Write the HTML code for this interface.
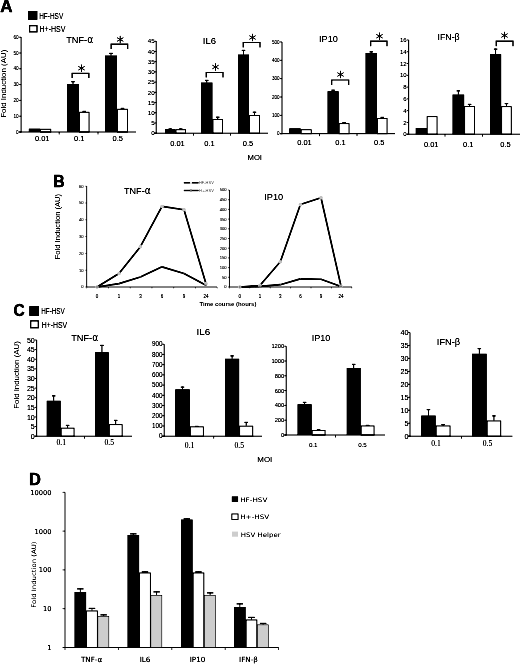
<!DOCTYPE html>
<html lang="en"><head><meta charset="utf-8"><title>Figure</title>
<style>
html,body{margin:0;padding:0;background:#fff;}
body{width:520px;height:664px;overflow:hidden;}
svg{display:block;}
</style></head><body>
<svg width="520" height="664" viewBox="0 0 520 664">
<defs><filter id="soft" x="0" y="0" width="520" height="664" filterUnits="userSpaceOnUse" color-interpolation-filters="sRGB">
<feGaussianBlur stdDeviation="0.45"/>
<feComponentTransfer><feFuncR type="linear" slope="1.5" intercept="-0.4"/><feFuncG type="linear" slope="1.5" intercept="-0.4"/><feFuncB type="linear" slope="1.5" intercept="-0.4"/></feComponentTransfer>
</filter></defs>
<g filter="url(#soft)">
<rect width="520" height="664" fill="#fff"/>
<text x="0.30" y="12.30" font-size="16.8" font-family='"Liberation Sans", sans-serif' textLength="12.30" lengthAdjust="spacingAndGlyphs" font-weight="bold" fill="#000" stroke="#000" stroke-width="0.4">A</text>
<rect x="28.00" y="11.00" width="9.40" height="8.80" fill="#000"/>
<text x="39.20" y="19.00" font-size="9" font-family='"Liberation Sans", sans-serif' textLength="24.00" lengthAdjust="spacingAndGlyphs" fill="#000" stroke="#000" stroke-width="0.08">HF-HSV</text>
<rect x="29.60" y="25.70" width="7.40" height="6.20" fill="#fff" stroke="#000" stroke-width="1.2"/>
<text x="39.50" y="32.00" font-size="9" font-family='"Liberation Sans", sans-serif' textLength="26.00" lengthAdjust="spacingAndGlyphs" fill="#000" stroke="#000" stroke-width="0.08">H+-HSV</text>
<text x="3.50" y="83.70" font-size="6.3" font-family='"Liberation Sans", sans-serif' text-anchor="middle" textLength="68.00" lengthAdjust="spacingAndGlyphs" transform="rotate(-90 3.50 83.70)" dominant-baseline="central">Fold Induction (AU)</text>
<rect x="28.80" y="128.60" width="11.30" height="3.40" fill="#000"/>
<rect x="40.55" y="129.25" width="10.20" height="2.75" fill="#fff" stroke="#000" stroke-width="0.9"/>
<rect x="67.00" y="84.00" width="12.00" height="48.00" fill="#000"/>
<rect x="79.45" y="112.25" width="9.60" height="19.75" fill="#fff" stroke="#000" stroke-width="0.9"/>
<line x1="73.00" y1="84.00" x2="73.00" y2="81.30" stroke="#000" stroke-width="1"/>
<line x1="71.25" y1="81.70" x2="74.75" y2="81.70" stroke="#000" stroke-width="1.2"/>
<line x1="84.25" y1="111.80" x2="84.25" y2="111.00" stroke="#000" stroke-width="1"/>
<line x1="82.50" y1="111.40" x2="86.00" y2="111.40" stroke="#000" stroke-width="1.2"/>
<rect x="105.00" y="55.50" width="12.00" height="76.50" fill="#000"/>
<rect x="117.45" y="109.25" width="10.10" height="22.75" fill="#fff" stroke="#000" stroke-width="0.9"/>
<line x1="111.00" y1="55.50" x2="111.00" y2="53.00" stroke="#000" stroke-width="1"/>
<line x1="109.25" y1="53.40" x2="112.75" y2="53.40" stroke="#000" stroke-width="1.2"/>
<line x1="122.50" y1="108.80" x2="122.50" y2="108.00" stroke="#000" stroke-width="1"/>
<line x1="120.75" y1="108.40" x2="124.25" y2="108.40" stroke="#000" stroke-width="1.2"/>
<line x1="21.10" y1="37.00" x2="21.10" y2="132.50" stroke="#000" stroke-width="0.9"/>
<line x1="19.10" y1="132.00" x2="136.00" y2="132.00" stroke="#000" stroke-width="0.9"/>
<line x1="19.10" y1="132.00" x2="21.10" y2="132.00" stroke="#000" stroke-width="0.8"/>
<text x="18.70" y="133.69" font-size="4.7" font-family='"Liberation Sans", sans-serif' text-anchor="end" fill="#000" stroke="#000" stroke-width="0.08">0</text>
<line x1="19.10" y1="116.20" x2="21.10" y2="116.20" stroke="#000" stroke-width="0.8"/>
<text x="18.70" y="117.89" font-size="4.7" font-family='"Liberation Sans", sans-serif' text-anchor="end" fill="#000" stroke="#000" stroke-width="0.08">10</text>
<line x1="19.10" y1="100.40" x2="21.10" y2="100.40" stroke="#000" stroke-width="0.8"/>
<text x="18.70" y="102.09" font-size="4.7" font-family='"Liberation Sans", sans-serif' text-anchor="end" fill="#000" stroke="#000" stroke-width="0.08">20</text>
<line x1="19.10" y1="84.60" x2="21.10" y2="84.60" stroke="#000" stroke-width="0.8"/>
<text x="18.70" y="86.29" font-size="4.7" font-family='"Liberation Sans", sans-serif' text-anchor="end" fill="#000" stroke="#000" stroke-width="0.08">30</text>
<line x1="19.10" y1="68.80" x2="21.10" y2="68.80" stroke="#000" stroke-width="0.8"/>
<text x="18.70" y="70.49" font-size="4.7" font-family='"Liberation Sans", sans-serif' text-anchor="end" fill="#000" stroke="#000" stroke-width="0.08">40</text>
<line x1="19.10" y1="53.00" x2="21.10" y2="53.00" stroke="#000" stroke-width="0.8"/>
<text x="18.70" y="54.69" font-size="4.7" font-family='"Liberation Sans", sans-serif' text-anchor="end" fill="#000" stroke="#000" stroke-width="0.08">50</text>
<line x1="19.10" y1="37.20" x2="21.10" y2="37.20" stroke="#000" stroke-width="0.8"/>
<text x="18.70" y="38.89" font-size="4.7" font-family='"Liberation Sans", sans-serif' text-anchor="end" fill="#000" stroke="#000" stroke-width="0.08">60</text>
<line x1="59.20" y1="132.00" x2="59.20" y2="134.50" stroke="#000" stroke-width="0.8"/>
<line x1="98.00" y1="132.00" x2="98.00" y2="134.50" stroke="#000" stroke-width="0.8"/>
<text x="42.20" y="140.90" font-size="7.5" font-family='"Liberation Sans", sans-serif' text-anchor="middle" fill="#000" stroke="#000" stroke-width="0.08">0.01</text>
<text x="79.20" y="140.90" font-size="7.5" font-family='"Liberation Sans", sans-serif' text-anchor="middle" fill="#000" stroke="#000" stroke-width="0.08">0.1</text>
<text x="117.80" y="140.90" font-size="7.5" font-family='"Liberation Sans", sans-serif' text-anchor="middle" fill="#000" stroke="#000" stroke-width="0.08">0.5</text>
<text x="66.20" y="43.30" font-size="9.8" font-family='"Liberation Sans", sans-serif' textLength="27.00" lengthAdjust="spacingAndGlyphs" fill="#000" stroke="#000" stroke-width="0.05">TNF-<tspan font-family="DejaVu Sans" font-size="9.8">α</tspan></text>
<path d="M72.10 78.00 V73.30 H88.90 V78.00" fill="none" stroke="#000" stroke-width="1.2"/>
<line x1="81.50" y1="64.50" x2="81.50" y2="71.90" stroke="#000" stroke-width="0.95"/>
<line x1="78.30" y1="66.35" x2="84.70" y2="70.05" stroke="#000" stroke-width="0.95"/>
<line x1="84.70" y1="66.35" x2="78.30" y2="70.05" stroke="#000" stroke-width="0.95"/>
<path d="M111.10 49.00 V44.10 H127.70 V49.00" fill="none" stroke="#000" stroke-width="1.2"/>
<line x1="120.20" y1="35.80" x2="120.20" y2="43.20" stroke="#000" stroke-width="0.95"/>
<line x1="117.00" y1="37.65" x2="123.40" y2="41.35" stroke="#000" stroke-width="0.95"/>
<line x1="123.40" y1="37.65" x2="117.00" y2="41.35" stroke="#000" stroke-width="0.95"/>
<rect x="165.00" y="129.20" width="10.50" height="4.00" fill="#000"/>
<rect x="175.95" y="129.75" width="9.60" height="3.45" fill="#fff" stroke="#000" stroke-width="0.9"/>
<line x1="170.25" y1="129.20" x2="170.25" y2="128.60" stroke="#000" stroke-width="1"/>
<line x1="168.50" y1="129.00" x2="172.00" y2="129.00" stroke="#000" stroke-width="1.2"/>
<line x1="180.75" y1="129.30" x2="180.75" y2="128.60" stroke="#000" stroke-width="1"/>
<line x1="179.00" y1="129.00" x2="182.50" y2="129.00" stroke="#000" stroke-width="1.2"/>
<rect x="201.00" y="82.50" width="11.50" height="50.70" fill="#000"/>
<rect x="212.95" y="119.45" width="9.60" height="13.75" fill="#fff" stroke="#000" stroke-width="0.9"/>
<line x1="206.75" y1="82.50" x2="206.75" y2="80.00" stroke="#000" stroke-width="1"/>
<line x1="205.00" y1="80.40" x2="208.50" y2="80.40" stroke="#000" stroke-width="1.2"/>
<line x1="217.75" y1="119.00" x2="217.75" y2="116.80" stroke="#000" stroke-width="1"/>
<line x1="216.00" y1="117.20" x2="219.50" y2="117.20" stroke="#000" stroke-width="1.2"/>
<rect x="238.00" y="54.50" width="11.00" height="78.70" fill="#000"/>
<rect x="249.45" y="115.45" width="10.10" height="17.75" fill="#fff" stroke="#000" stroke-width="0.9"/>
<line x1="243.50" y1="54.50" x2="243.50" y2="50.00" stroke="#000" stroke-width="1"/>
<line x1="241.75" y1="50.40" x2="245.25" y2="50.40" stroke="#000" stroke-width="1.2"/>
<line x1="254.50" y1="115.00" x2="254.50" y2="111.80" stroke="#000" stroke-width="1"/>
<line x1="252.75" y1="112.20" x2="256.25" y2="112.20" stroke="#000" stroke-width="1.2"/>
<line x1="156.20" y1="41.00" x2="156.20" y2="133.70" stroke="#000" stroke-width="0.9"/>
<line x1="154.20" y1="133.20" x2="268.00" y2="133.20" stroke="#000" stroke-width="0.9"/>
<line x1="154.20" y1="133.20" x2="156.20" y2="133.20" stroke="#000" stroke-width="0.8"/>
<text x="154.60" y="135.43" font-size="6.2" font-family='"Liberation Sans", sans-serif' text-anchor="end" fill="#000" stroke="#000" stroke-width="0.08">0</text>
<line x1="154.20" y1="122.98" x2="156.20" y2="122.98" stroke="#000" stroke-width="0.8"/>
<text x="154.60" y="125.21" font-size="6.2" font-family='"Liberation Sans", sans-serif' text-anchor="end" fill="#000" stroke="#000" stroke-width="0.08">5</text>
<line x1="154.20" y1="112.76" x2="156.20" y2="112.76" stroke="#000" stroke-width="0.8"/>
<text x="154.60" y="114.99" font-size="6.2" font-family='"Liberation Sans", sans-serif' text-anchor="end" fill="#000" stroke="#000" stroke-width="0.08">10</text>
<line x1="154.20" y1="102.54" x2="156.20" y2="102.54" stroke="#000" stroke-width="0.8"/>
<text x="154.60" y="104.77" font-size="6.2" font-family='"Liberation Sans", sans-serif' text-anchor="end" fill="#000" stroke="#000" stroke-width="0.08">15</text>
<line x1="154.20" y1="92.32" x2="156.20" y2="92.32" stroke="#000" stroke-width="0.8"/>
<text x="154.60" y="94.55" font-size="6.2" font-family='"Liberation Sans", sans-serif' text-anchor="end" fill="#000" stroke="#000" stroke-width="0.08">20</text>
<line x1="154.20" y1="82.10" x2="156.20" y2="82.10" stroke="#000" stroke-width="0.8"/>
<text x="154.60" y="84.33" font-size="6.2" font-family='"Liberation Sans", sans-serif' text-anchor="end" fill="#000" stroke="#000" stroke-width="0.08">25</text>
<line x1="154.20" y1="71.88" x2="156.20" y2="71.88" stroke="#000" stroke-width="0.8"/>
<text x="154.60" y="74.11" font-size="6.2" font-family='"Liberation Sans", sans-serif' text-anchor="end" fill="#000" stroke="#000" stroke-width="0.08">30</text>
<line x1="154.20" y1="61.66" x2="156.20" y2="61.66" stroke="#000" stroke-width="0.8"/>
<text x="154.60" y="63.89" font-size="6.2" font-family='"Liberation Sans", sans-serif' text-anchor="end" fill="#000" stroke="#000" stroke-width="0.08">35</text>
<line x1="154.20" y1="51.44" x2="156.20" y2="51.44" stroke="#000" stroke-width="0.8"/>
<text x="154.60" y="53.67" font-size="6.2" font-family='"Liberation Sans", sans-serif' text-anchor="end" fill="#000" stroke="#000" stroke-width="0.08">40</text>
<line x1="154.20" y1="41.22" x2="156.20" y2="41.22" stroke="#000" stroke-width="0.8"/>
<text x="154.60" y="43.45" font-size="6.2" font-family='"Liberation Sans", sans-serif' text-anchor="end" fill="#000" stroke="#000" stroke-width="0.08">45</text>
<line x1="193.50" y1="133.20" x2="193.50" y2="135.70" stroke="#000" stroke-width="0.8"/>
<line x1="230.50" y1="133.20" x2="230.50" y2="135.70" stroke="#000" stroke-width="0.8"/>
<text x="177.50" y="146.40" font-size="7.5" font-family='"Liberation Sans", sans-serif' text-anchor="middle" fill="#000" stroke="#000" stroke-width="0.08">0.01</text>
<text x="209.50" y="146.40" font-size="7.5" font-family='"Liberation Sans", sans-serif' text-anchor="middle" fill="#000" stroke="#000" stroke-width="0.08">0.1</text>
<text x="248.00" y="146.40" font-size="7.5" font-family='"Liberation Sans", sans-serif' text-anchor="middle" fill="#000" stroke="#000" stroke-width="0.08">0.5</text>
<text x="202.80" y="43.80" font-size="9.8" font-family='"Liberation Sans", sans-serif' textLength="13.30" lengthAdjust="spacingAndGlyphs" fill="#000" stroke="#000" stroke-width="0.05">IL6</text>
<path d="M206.20 77.50 V72.50 H223.00 V77.50" fill="none" stroke="#000" stroke-width="1.2"/>
<line x1="215.50" y1="63.30" x2="215.50" y2="70.70" stroke="#000" stroke-width="0.95"/>
<line x1="212.30" y1="65.15" x2="218.70" y2="68.85" stroke="#000" stroke-width="0.95"/>
<line x1="218.70" y1="65.15" x2="212.30" y2="68.85" stroke="#000" stroke-width="0.95"/>
<path d="M243.20 47.50 V42.50 H260.00 V47.50" fill="none" stroke="#000" stroke-width="1.2"/>
<line x1="252.50" y1="33.80" x2="252.50" y2="41.20" stroke="#000" stroke-width="0.95"/>
<line x1="249.30" y1="35.65" x2="255.70" y2="39.35" stroke="#000" stroke-width="0.95"/>
<line x1="255.70" y1="35.65" x2="249.30" y2="39.35" stroke="#000" stroke-width="0.95"/>
<text x="247.50" y="160.00" font-size="7.8" font-family='"Liberation Sans", sans-serif' textLength="14.50" lengthAdjust="spacingAndGlyphs" fill="#000" stroke="#000" stroke-width="0.08">MOI</text>
<rect x="289.20" y="128.30" width="11.50" height="5.40" fill="#000"/>
<rect x="301.15" y="129.75" width="10.10" height="3.95" fill="#fff" stroke="#000" stroke-width="0.9"/>
<rect x="327.50" y="91.20" width="11.20" height="42.50" fill="#000"/>
<rect x="339.15" y="123.65" width="9.90" height="10.05" fill="#fff" stroke="#000" stroke-width="0.9"/>
<line x1="333.10" y1="91.20" x2="333.10" y2="89.80" stroke="#000" stroke-width="1"/>
<line x1="331.35" y1="90.20" x2="334.85" y2="90.20" stroke="#000" stroke-width="1.2"/>
<line x1="344.10" y1="123.20" x2="344.10" y2="122.20" stroke="#000" stroke-width="1"/>
<line x1="342.35" y1="122.60" x2="345.85" y2="122.60" stroke="#000" stroke-width="1.2"/>
<rect x="365.50" y="53.00" width="11.50" height="80.70" fill="#000"/>
<rect x="377.45" y="118.45" width="9.60" height="15.25" fill="#fff" stroke="#000" stroke-width="0.9"/>
<line x1="371.25" y1="53.00" x2="371.25" y2="51.50" stroke="#000" stroke-width="1"/>
<line x1="369.50" y1="51.90" x2="373.00" y2="51.90" stroke="#000" stroke-width="1.2"/>
<line x1="382.25" y1="118.00" x2="382.25" y2="117.00" stroke="#000" stroke-width="1"/>
<line x1="380.50" y1="117.40" x2="384.00" y2="117.40" stroke="#000" stroke-width="1.2"/>
<line x1="282.00" y1="42.00" x2="282.00" y2="134.20" stroke="#000" stroke-width="0.9"/>
<line x1="280.00" y1="133.70" x2="395.00" y2="133.70" stroke="#000" stroke-width="0.9"/>
<line x1="280.00" y1="133.70" x2="282.00" y2="133.70" stroke="#000" stroke-width="0.8"/>
<text x="279.60" y="135.36" font-size="4.6" font-family='"Liberation Sans", sans-serif' text-anchor="end" fill="#000" stroke="#000" stroke-width="0.08">0</text>
<line x1="280.00" y1="115.35" x2="282.00" y2="115.35" stroke="#000" stroke-width="0.8"/>
<text x="279.60" y="117.01" font-size="4.6" font-family='"Liberation Sans", sans-serif' text-anchor="end" fill="#000" stroke="#000" stroke-width="0.08">100</text>
<line x1="280.00" y1="97.00" x2="282.00" y2="97.00" stroke="#000" stroke-width="0.8"/>
<text x="279.60" y="98.66" font-size="4.6" font-family='"Liberation Sans", sans-serif' text-anchor="end" fill="#000" stroke="#000" stroke-width="0.08">200</text>
<line x1="280.00" y1="78.65" x2="282.00" y2="78.65" stroke="#000" stroke-width="0.8"/>
<text x="279.60" y="80.31" font-size="4.6" font-family='"Liberation Sans", sans-serif' text-anchor="end" fill="#000" stroke="#000" stroke-width="0.08">300</text>
<line x1="280.00" y1="60.30" x2="282.00" y2="60.30" stroke="#000" stroke-width="0.8"/>
<text x="279.60" y="61.96" font-size="4.6" font-family='"Liberation Sans", sans-serif' text-anchor="end" fill="#000" stroke="#000" stroke-width="0.08">400</text>
<line x1="280.00" y1="41.95" x2="282.00" y2="41.95" stroke="#000" stroke-width="0.8"/>
<text x="279.60" y="43.61" font-size="4.6" font-family='"Liberation Sans", sans-serif' text-anchor="end" fill="#000" stroke="#000" stroke-width="0.08">500</text>
<line x1="319.50" y1="133.70" x2="319.50" y2="136.20" stroke="#000" stroke-width="0.8"/>
<line x1="357.00" y1="133.70" x2="357.00" y2="136.20" stroke="#000" stroke-width="0.8"/>
<text x="304.50" y="145.00" font-size="7.5" font-family='"Liberation Sans", sans-serif' text-anchor="middle" fill="#000" stroke="#000" stroke-width="0.08">0.01</text>
<text x="340.50" y="145.00" font-size="7.5" font-family='"Liberation Sans", sans-serif' text-anchor="middle" fill="#000" stroke="#000" stroke-width="0.08">0.1</text>
<text x="379.20" y="145.00" font-size="7.5" font-family='"Liberation Sans", sans-serif' text-anchor="middle" fill="#000" stroke="#000" stroke-width="0.08">0.5</text>
<text x="319.00" y="41.50" font-size="9.7" font-family='"Liberation Sans", sans-serif' textLength="18.80" lengthAdjust="spacingAndGlyphs" fill="#000" stroke="#000" stroke-width="0.05">IP10</text>
<path d="M331.70 85.00 V80.00 H348.70 V85.00" fill="none" stroke="#000" stroke-width="1.2"/>
<line x1="340.50" y1="70.80" x2="340.50" y2="78.20" stroke="#000" stroke-width="0.95"/>
<line x1="337.30" y1="72.65" x2="343.70" y2="76.35" stroke="#000" stroke-width="0.95"/>
<line x1="343.70" y1="72.65" x2="337.30" y2="76.35" stroke="#000" stroke-width="0.95"/>
<path d="M370.70 46.20 V41.20 H387.00 V46.20" fill="none" stroke="#000" stroke-width="1.2"/>
<line x1="379.50" y1="32.50" x2="379.50" y2="39.90" stroke="#000" stroke-width="0.95"/>
<line x1="376.30" y1="34.35" x2="382.70" y2="38.05" stroke="#000" stroke-width="0.95"/>
<line x1="382.70" y1="34.35" x2="376.30" y2="38.05" stroke="#000" stroke-width="0.95"/>
<rect x="415.70" y="128.00" width="11.00" height="6.20" fill="#000"/>
<rect x="427.15" y="116.65" width="9.90" height="17.55" fill="#fff" stroke="#000" stroke-width="0.9"/>
<rect x="452.50" y="94.50" width="11.70" height="39.70" fill="#000"/>
<rect x="464.65" y="106.45" width="9.90" height="27.75" fill="#fff" stroke="#000" stroke-width="0.9"/>
<line x1="458.35" y1="94.50" x2="458.35" y2="90.50" stroke="#000" stroke-width="1"/>
<line x1="456.60" y1="90.90" x2="460.10" y2="90.90" stroke="#000" stroke-width="1.2"/>
<line x1="469.60" y1="106.00" x2="469.60" y2="104.00" stroke="#000" stroke-width="1"/>
<line x1="467.85" y1="104.40" x2="471.35" y2="104.40" stroke="#000" stroke-width="1.2"/>
<rect x="490.00" y="54.20" width="11.20" height="80.00" fill="#000"/>
<rect x="501.65" y="106.65" width="9.60" height="27.55" fill="#fff" stroke="#000" stroke-width="0.9"/>
<line x1="495.60" y1="54.20" x2="495.60" y2="48.70" stroke="#000" stroke-width="1"/>
<line x1="493.85" y1="49.10" x2="497.35" y2="49.10" stroke="#000" stroke-width="1.2"/>
<line x1="506.45" y1="106.20" x2="506.45" y2="103.20" stroke="#000" stroke-width="1"/>
<line x1="504.70" y1="103.60" x2="508.20" y2="103.60" stroke="#000" stroke-width="1.2"/>
<line x1="408.70" y1="40.00" x2="408.70" y2="134.70" stroke="#000" stroke-width="0.9"/>
<line x1="406.70" y1="134.20" x2="520.00" y2="134.20" stroke="#000" stroke-width="0.9"/>
<line x1="406.70" y1="134.20" x2="408.70" y2="134.20" stroke="#000" stroke-width="0.8"/>
<text x="406.60" y="136.36" font-size="6.0" font-family='"Liberation Sans", sans-serif' text-anchor="end" fill="#000" stroke="#000" stroke-width="0.08">0</text>
<line x1="406.70" y1="122.42" x2="408.70" y2="122.42" stroke="#000" stroke-width="0.8"/>
<text x="406.60" y="124.58" font-size="6.0" font-family='"Liberation Sans", sans-serif' text-anchor="end" fill="#000" stroke="#000" stroke-width="0.08">2</text>
<line x1="406.70" y1="110.64" x2="408.70" y2="110.64" stroke="#000" stroke-width="0.8"/>
<text x="406.60" y="112.80" font-size="6.0" font-family='"Liberation Sans", sans-serif' text-anchor="end" fill="#000" stroke="#000" stroke-width="0.08">4</text>
<line x1="406.70" y1="98.86" x2="408.70" y2="98.86" stroke="#000" stroke-width="0.8"/>
<text x="406.60" y="101.02" font-size="6.0" font-family='"Liberation Sans", sans-serif' text-anchor="end" fill="#000" stroke="#000" stroke-width="0.08">6</text>
<line x1="406.70" y1="87.08" x2="408.70" y2="87.08" stroke="#000" stroke-width="0.8"/>
<text x="406.60" y="89.24" font-size="6.0" font-family='"Liberation Sans", sans-serif' text-anchor="end" fill="#000" stroke="#000" stroke-width="0.08">8</text>
<line x1="406.70" y1="75.30" x2="408.70" y2="75.30" stroke="#000" stroke-width="0.8"/>
<text x="406.60" y="77.46" font-size="6.0" font-family='"Liberation Sans", sans-serif' text-anchor="end" fill="#000" stroke="#000" stroke-width="0.08">10</text>
<line x1="406.70" y1="63.52" x2="408.70" y2="63.52" stroke="#000" stroke-width="0.8"/>
<text x="406.60" y="65.68" font-size="6.0" font-family='"Liberation Sans", sans-serif' text-anchor="end" fill="#000" stroke="#000" stroke-width="0.08">12</text>
<line x1="406.70" y1="51.74" x2="408.70" y2="51.74" stroke="#000" stroke-width="0.8"/>
<text x="406.60" y="53.90" font-size="6.0" font-family='"Liberation Sans", sans-serif' text-anchor="end" fill="#000" stroke="#000" stroke-width="0.08">14</text>
<line x1="406.70" y1="39.96" x2="408.70" y2="39.96" stroke="#000" stroke-width="0.8"/>
<text x="406.60" y="42.12" font-size="6.0" font-family='"Liberation Sans", sans-serif' text-anchor="end" fill="#000" stroke="#000" stroke-width="0.08">16</text>
<line x1="445.00" y1="134.20" x2="445.00" y2="136.70" stroke="#000" stroke-width="0.8"/>
<line x1="482.50" y1="134.20" x2="482.50" y2="136.70" stroke="#000" stroke-width="0.8"/>
<text x="431.20" y="147.00" font-size="7.5" font-family='"Liberation Sans", sans-serif' text-anchor="middle" fill="#000" stroke="#000" stroke-width="0.08">0.01</text>
<text x="468.20" y="147.00" font-size="7.5" font-family='"Liberation Sans", sans-serif' text-anchor="middle" fill="#000" stroke="#000" stroke-width="0.08">0.1</text>
<text x="505.50" y="147.00" font-size="7.5" font-family='"Liberation Sans", sans-serif' text-anchor="middle" fill="#000" stroke="#000" stroke-width="0.08">0.5</text>
<text x="437.50" y="39.50" font-size="9.7" font-family='"Liberation Sans", sans-serif' textLength="22.10" lengthAdjust="spacingAndGlyphs" fill="#000" stroke="#000" stroke-width="0.05">IFN-β</text>
<path d="M496.20 46.20 V41.20 H513.00 V46.20" fill="none" stroke="#000" stroke-width="1.2"/>
<line x1="504.50" y1="31.80" x2="504.50" y2="39.20" stroke="#000" stroke-width="0.95"/>
<line x1="501.30" y1="33.65" x2="507.70" y2="37.35" stroke="#000" stroke-width="0.95"/>
<line x1="507.70" y1="33.65" x2="501.30" y2="37.35" stroke="#000" stroke-width="0.95"/>
<text x="53.20" y="187.30" font-size="16" font-family='"Liberation Sans", sans-serif' textLength="11.40" lengthAdjust="spacingAndGlyphs" font-weight="bold" fill="#000" stroke="#000" stroke-width="0.4">B</text>
<text x="57.50" y="226.60" font-size="6.3" font-family='"Liberation Sans", sans-serif' text-anchor="middle" textLength="65.30" lengthAdjust="spacingAndGlyphs" transform="rotate(-90 57.50 226.60)" dominant-baseline="central">Fold Induction (AU)</text>
<line x1="86.70" y1="186.00" x2="86.70" y2="287.00" stroke="#222" stroke-width="0.9"/>
<line x1="86.70" y1="287.00" x2="217.00" y2="287.00" stroke="#222" stroke-width="0.9"/>
<line x1="85.20" y1="287.00" x2="86.70" y2="287.00" stroke="#222" stroke-width="0.6"/>
<text x="83.50" y="288.45" font-size="4.1" font-family='"Liberation Sans", sans-serif' text-anchor="end" fill="#333" stroke="#333" stroke-width="0.12">0</text>
<line x1="85.20" y1="270.20" x2="86.70" y2="270.20" stroke="#222" stroke-width="0.6"/>
<text x="83.50" y="271.65" font-size="4.1" font-family='"Liberation Sans", sans-serif' text-anchor="end" fill="#333" stroke="#333" stroke-width="0.12">10</text>
<line x1="85.20" y1="253.40" x2="86.70" y2="253.40" stroke="#222" stroke-width="0.6"/>
<text x="83.50" y="254.85" font-size="4.1" font-family='"Liberation Sans", sans-serif' text-anchor="end" fill="#333" stroke="#333" stroke-width="0.12">20</text>
<line x1="85.20" y1="236.60" x2="86.70" y2="236.60" stroke="#222" stroke-width="0.6"/>
<text x="83.50" y="238.05" font-size="4.1" font-family='"Liberation Sans", sans-serif' text-anchor="end" fill="#333" stroke="#333" stroke-width="0.12">30</text>
<line x1="85.20" y1="219.80" x2="86.70" y2="219.80" stroke="#222" stroke-width="0.6"/>
<text x="83.50" y="221.25" font-size="4.1" font-family='"Liberation Sans", sans-serif' text-anchor="end" fill="#333" stroke="#333" stroke-width="0.12">40</text>
<line x1="85.20" y1="203.00" x2="86.70" y2="203.00" stroke="#222" stroke-width="0.6"/>
<text x="83.50" y="204.45" font-size="4.1" font-family='"Liberation Sans", sans-serif' text-anchor="end" fill="#333" stroke="#333" stroke-width="0.12">50</text>
<line x1="85.20" y1="186.20" x2="86.70" y2="186.20" stroke="#222" stroke-width="0.6"/>
<text x="83.50" y="187.65" font-size="4.1" font-family='"Liberation Sans", sans-serif' text-anchor="end" fill="#333" stroke="#333" stroke-width="0.12">60</text>
<polyline points="97.00,287.00 119.00,273.56 140.40,246.68 162.00,206.36 184.00,209.72 206.00,283.64" fill="none" stroke="#000" stroke-width="1.65" stroke-linejoin="round"/>
<polyline points="97.00,287.00 119.00,283.64 140.40,276.92 162.00,266.84 184.00,273.56 206.00,285.32" fill="none" stroke="#000" stroke-width="1.65" stroke-linejoin="round"/>
<circle cx="97.00" cy="287.00" r="1.9" fill="#c4c4c4"/>
<circle cx="119.00" cy="273.56" r="1.9" fill="#c4c4c4"/>
<circle cx="140.40" cy="246.68" r="1.9" fill="#c4c4c4"/>
<circle cx="162.00" cy="206.36" r="1.9" fill="#c4c4c4"/>
<circle cx="184.00" cy="209.72" r="1.9" fill="#c4c4c4"/>
<circle cx="206.00" cy="283.64" r="1.9" fill="#c4c4c4"/>
<circle cx="97.00" cy="287.00" r="0.8" fill="#777"/>
<circle cx="119.00" cy="283.64" r="0.8" fill="#777"/>
<circle cx="140.40" cy="276.92" r="0.8" fill="#777"/>
<circle cx="162.00" cy="266.84" r="0.8" fill="#777"/>
<circle cx="184.00" cy="273.56" r="0.8" fill="#777"/>
<circle cx="206.00" cy="285.32" r="0.8" fill="#777"/>
<text x="97.00" y="297.60" font-size="4.5" font-family='"Liberation Sans", sans-serif' text-anchor="middle" fill="#222" stroke="#222" stroke-width="0.15">0</text>
<text x="119.00" y="297.60" font-size="4.5" font-family='"Liberation Sans", sans-serif' text-anchor="middle" fill="#222" stroke="#222" stroke-width="0.15">1</text>
<text x="140.40" y="297.60" font-size="4.5" font-family='"Liberation Sans", sans-serif' text-anchor="middle" fill="#222" stroke="#222" stroke-width="0.15">3</text>
<text x="162.00" y="297.60" font-size="4.5" font-family='"Liberation Sans", sans-serif' text-anchor="middle" fill="#222" stroke="#222" stroke-width="0.15">6</text>
<text x="184.00" y="297.60" font-size="4.5" font-family='"Liberation Sans", sans-serif' text-anchor="middle" fill="#222" stroke="#222" stroke-width="0.15">9</text>
<text x="206.00" y="297.60" font-size="4.5" font-family='"Liberation Sans", sans-serif' text-anchor="middle" fill="#222" stroke="#222" stroke-width="0.15">24</text>
<line x1="86.70" y1="287.00" x2="86.70" y2="288.50" stroke="#222" stroke-width="0.6"/>
<line x1="108.45" y1="287.00" x2="108.45" y2="288.50" stroke="#222" stroke-width="0.6"/>
<line x1="130.20" y1="287.00" x2="130.20" y2="288.50" stroke="#222" stroke-width="0.6"/>
<line x1="151.95" y1="287.00" x2="151.95" y2="288.50" stroke="#222" stroke-width="0.6"/>
<line x1="173.70" y1="287.00" x2="173.70" y2="288.50" stroke="#222" stroke-width="0.6"/>
<line x1="195.45" y1="287.00" x2="195.45" y2="288.50" stroke="#222" stroke-width="0.6"/>
<line x1="217.20" y1="287.00" x2="217.20" y2="288.50" stroke="#222" stroke-width="0.6"/>
<text x="124.00" y="193.60" font-size="9.8" font-family='"Liberation Sans", sans-serif' textLength="26.70" lengthAdjust="spacingAndGlyphs" fill="#000" stroke="#000" stroke-width="0.05">TNF-<tspan font-family="DejaVu Sans" font-size="9.8">α</tspan></text>
<line x1="183.80" y1="182.80" x2="198.60" y2="182.80" stroke="#000" stroke-width="1.4"/>
<rect x="189.9" y="181.7" width="2.2" height="2.2" fill="#ddd"/>
<line x1="183.80" y1="190.50" x2="198.60" y2="190.50" stroke="#000" stroke-width="1.4"/>
<rect x="189.9" y="189.5" width="2" height="2" fill="#888"/>
<text x="199.00" y="184.10" font-size="3.8" font-family='"Liberation Sans", sans-serif' textLength="14.80" lengthAdjust="spacingAndGlyphs" fill="#555">HF-HSV</text>
<text x="199.00" y="191.80" font-size="3.8" font-family='"Liberation Sans", sans-serif' textLength="14.80" lengthAdjust="spacingAndGlyphs" fill="#555">H+-HSV</text>
<line x1="229.40" y1="190.00" x2="229.40" y2="287.00" stroke="#222" stroke-width="0.9"/>
<line x1="229.40" y1="287.00" x2="352.00" y2="287.00" stroke="#222" stroke-width="0.9"/>
<line x1="227.90" y1="287.00" x2="229.40" y2="287.00" stroke="#222" stroke-width="0.6"/>
<text x="226.50" y="288.45" font-size="4.1" font-family='"Liberation Sans", sans-serif' text-anchor="end" fill="#333" stroke="#333" stroke-width="0.12">0</text>
<line x1="227.90" y1="277.30" x2="229.40" y2="277.30" stroke="#222" stroke-width="0.6"/>
<text x="226.50" y="278.75" font-size="4.1" font-family='"Liberation Sans", sans-serif' text-anchor="end" fill="#333" stroke="#333" stroke-width="0.12">50</text>
<line x1="227.90" y1="267.60" x2="229.40" y2="267.60" stroke="#222" stroke-width="0.6"/>
<text x="226.50" y="269.05" font-size="4.1" font-family='"Liberation Sans", sans-serif' text-anchor="end" fill="#333" stroke="#333" stroke-width="0.12">100</text>
<line x1="227.90" y1="257.90" x2="229.40" y2="257.90" stroke="#222" stroke-width="0.6"/>
<text x="226.50" y="259.35" font-size="4.1" font-family='"Liberation Sans", sans-serif' text-anchor="end" fill="#333" stroke="#333" stroke-width="0.12">150</text>
<line x1="227.90" y1="248.20" x2="229.40" y2="248.20" stroke="#222" stroke-width="0.6"/>
<text x="226.50" y="249.65" font-size="4.1" font-family='"Liberation Sans", sans-serif' text-anchor="end" fill="#333" stroke="#333" stroke-width="0.12">200</text>
<line x1="227.90" y1="238.50" x2="229.40" y2="238.50" stroke="#222" stroke-width="0.6"/>
<text x="226.50" y="239.95" font-size="4.1" font-family='"Liberation Sans", sans-serif' text-anchor="end" fill="#333" stroke="#333" stroke-width="0.12">250</text>
<line x1="227.90" y1="228.80" x2="229.40" y2="228.80" stroke="#222" stroke-width="0.6"/>
<text x="226.50" y="230.25" font-size="4.1" font-family='"Liberation Sans", sans-serif' text-anchor="end" fill="#333" stroke="#333" stroke-width="0.12">300</text>
<line x1="227.90" y1="219.10" x2="229.40" y2="219.10" stroke="#222" stroke-width="0.6"/>
<text x="226.50" y="220.55" font-size="4.1" font-family='"Liberation Sans", sans-serif' text-anchor="end" fill="#333" stroke="#333" stroke-width="0.12">350</text>
<line x1="227.90" y1="209.40" x2="229.40" y2="209.40" stroke="#222" stroke-width="0.6"/>
<text x="226.50" y="210.85" font-size="4.1" font-family='"Liberation Sans", sans-serif' text-anchor="end" fill="#333" stroke="#333" stroke-width="0.12">400</text>
<line x1="227.90" y1="199.70" x2="229.40" y2="199.70" stroke="#222" stroke-width="0.6"/>
<text x="226.50" y="201.15" font-size="4.1" font-family='"Liberation Sans", sans-serif' text-anchor="end" fill="#333" stroke="#333" stroke-width="0.12">450</text>
<line x1="227.90" y1="190.00" x2="229.40" y2="190.00" stroke="#222" stroke-width="0.6"/>
<text x="226.50" y="191.45" font-size="4.1" font-family='"Liberation Sans", sans-serif' text-anchor="end" fill="#333" stroke="#333" stroke-width="0.12">500</text>
<polyline points="239.80,287.00 259.90,285.45 280.30,261.78 300.40,204.55 321.00,197.76 341.00,286.03" fill="none" stroke="#000" stroke-width="1.65" stroke-linejoin="round"/>
<polyline points="239.80,287.00 259.90,286.42 280.30,284.67 300.40,278.85 321.00,279.24 341.00,286.42" fill="none" stroke="#000" stroke-width="1.65" stroke-linejoin="round"/>
<circle cx="239.80" cy="287.00" r="1.9" fill="#c4c4c4"/>
<circle cx="259.90" cy="285.45" r="1.9" fill="#c4c4c4"/>
<circle cx="280.30" cy="261.78" r="1.9" fill="#c4c4c4"/>
<circle cx="300.40" cy="204.55" r="1.9" fill="#c4c4c4"/>
<circle cx="321.00" cy="197.76" r="1.9" fill="#c4c4c4"/>
<circle cx="341.00" cy="286.03" r="1.9" fill="#c4c4c4"/>
<circle cx="239.80" cy="287.00" r="0.8" fill="#777"/>
<circle cx="259.90" cy="286.42" r="0.8" fill="#777"/>
<circle cx="280.30" cy="284.67" r="0.8" fill="#777"/>
<circle cx="300.40" cy="278.85" r="0.8" fill="#777"/>
<circle cx="321.00" cy="279.24" r="0.8" fill="#777"/>
<circle cx="341.00" cy="286.42" r="0.8" fill="#777"/>
<text x="239.80" y="297.60" font-size="4.5" font-family='"Liberation Sans", sans-serif' text-anchor="middle" fill="#222" stroke="#222" stroke-width="0.15">0</text>
<text x="259.90" y="297.60" font-size="4.5" font-family='"Liberation Sans", sans-serif' text-anchor="middle" fill="#222" stroke="#222" stroke-width="0.15">1</text>
<text x="280.30" y="297.60" font-size="4.5" font-family='"Liberation Sans", sans-serif' text-anchor="middle" fill="#222" stroke="#222" stroke-width="0.15">3</text>
<text x="300.40" y="297.60" font-size="4.5" font-family='"Liberation Sans", sans-serif' text-anchor="middle" fill="#222" stroke="#222" stroke-width="0.15">6</text>
<text x="321.00" y="297.60" font-size="4.5" font-family='"Liberation Sans", sans-serif' text-anchor="middle" fill="#222" stroke="#222" stroke-width="0.15">9</text>
<text x="341.00" y="297.60" font-size="4.5" font-family='"Liberation Sans", sans-serif' text-anchor="middle" fill="#222" stroke="#222" stroke-width="0.15">24</text>
<line x1="229.40" y1="287.00" x2="229.40" y2="288.50" stroke="#222" stroke-width="0.6"/>
<line x1="249.80" y1="287.00" x2="249.80" y2="288.50" stroke="#222" stroke-width="0.6"/>
<line x1="270.20" y1="287.00" x2="270.20" y2="288.50" stroke="#222" stroke-width="0.6"/>
<line x1="290.60" y1="287.00" x2="290.60" y2="288.50" stroke="#222" stroke-width="0.6"/>
<line x1="311.00" y1="287.00" x2="311.00" y2="288.50" stroke="#222" stroke-width="0.6"/>
<line x1="331.40" y1="287.00" x2="331.40" y2="288.50" stroke="#222" stroke-width="0.6"/>
<line x1="351.80" y1="287.00" x2="351.80" y2="288.50" stroke="#222" stroke-width="0.6"/>
<text x="264.20" y="200.20" font-size="9.5" font-family='"Liberation Sans", sans-serif' textLength="19.00" lengthAdjust="spacingAndGlyphs" fill="#000" stroke="#000" stroke-width="0.05">IP10</text>
<text x="199.60" y="306.00" font-size="5.8" font-family='"Liberation Sans", sans-serif' textLength="56.80" lengthAdjust="spacingAndGlyphs" font-weight="bold" fill="#222">Time course (hours)</text>
<text x="13.60" y="315.50" font-size="16.5" font-family='"Liberation Sans", sans-serif' textLength="11.20" lengthAdjust="spacingAndGlyphs" font-weight="bold" fill="#000" stroke="#000" stroke-width="0.4">C</text>
<rect x="29.30" y="306.10" width="9.70" height="9.80" fill="#000"/>
<text x="41.20" y="314.40" font-size="9" font-family='"Liberation Sans", sans-serif' textLength="23.60" lengthAdjust="spacingAndGlyphs" fill="#000" stroke="#000" stroke-width="0.08">HF-HSV</text>
<rect x="30.70" y="320.90" width="7.60" height="6.90" fill="#fff" stroke="#000" stroke-width="1.2"/>
<text x="41.70" y="328.10" font-size="9" font-family='"Liberation Sans", sans-serif' textLength="25.50" lengthAdjust="spacingAndGlyphs" fill="#000" stroke="#000" stroke-width="0.08">H+-HSV</text>
<text x="16.30" y="375.00" font-size="6.5" font-family='"Liberation Sans", sans-serif' text-anchor="middle" textLength="67.50" lengthAdjust="spacingAndGlyphs" transform="rotate(-90 16.30 375.00)" dominant-baseline="central">Fold Induction (AU)</text>
<rect x="46.70" y="400.70" width="14.00" height="35.50" fill="#000"/>
<rect x="61.15" y="428.15" width="12.90" height="8.05" fill="#fff" stroke="#000" stroke-width="0.9"/>
<line x1="53.70" y1="400.70" x2="53.70" y2="395.50" stroke="#000" stroke-width="1"/>
<line x1="51.95" y1="395.90" x2="55.45" y2="395.90" stroke="#000" stroke-width="1.2"/>
<line x1="67.60" y1="427.70" x2="67.60" y2="425.00" stroke="#000" stroke-width="1"/>
<line x1="65.85" y1="425.40" x2="69.35" y2="425.40" stroke="#000" stroke-width="1.2"/>
<rect x="95.10" y="352.20" width="13.70" height="84.00" fill="#000"/>
<rect x="109.25" y="424.65" width="12.90" height="11.55" fill="#fff" stroke="#000" stroke-width="0.9"/>
<line x1="101.95" y1="352.20" x2="101.95" y2="345.00" stroke="#000" stroke-width="1"/>
<line x1="100.20" y1="345.40" x2="103.70" y2="345.40" stroke="#000" stroke-width="1.2"/>
<line x1="115.70" y1="424.20" x2="115.70" y2="420.00" stroke="#000" stroke-width="1"/>
<line x1="113.95" y1="420.40" x2="117.45" y2="420.40" stroke="#000" stroke-width="1.2"/>
<line x1="36.70" y1="340.00" x2="36.70" y2="436.70" stroke="#000" stroke-width="0.9"/>
<line x1="34.70" y1="436.20" x2="132.00" y2="436.20" stroke="#000" stroke-width="0.9"/>
<line x1="34.70" y1="436.20" x2="36.70" y2="436.20" stroke="#000" stroke-width="0.8"/>
<text x="34.80" y="438.76" font-size="7.1" font-family='"Liberation Sans", sans-serif' text-anchor="end" fill="#000" stroke="#000" stroke-width="0.08">0</text>
<line x1="34.70" y1="426.58" x2="36.70" y2="426.58" stroke="#000" stroke-width="0.8"/>
<text x="34.80" y="429.14" font-size="7.1" font-family='"Liberation Sans", sans-serif' text-anchor="end" fill="#000" stroke="#000" stroke-width="0.08">5</text>
<line x1="34.70" y1="416.96" x2="36.70" y2="416.96" stroke="#000" stroke-width="0.8"/>
<text x="34.80" y="419.52" font-size="7.1" font-family='"Liberation Sans", sans-serif' text-anchor="end" fill="#000" stroke="#000" stroke-width="0.08">10</text>
<line x1="34.70" y1="407.34" x2="36.70" y2="407.34" stroke="#000" stroke-width="0.8"/>
<text x="34.80" y="409.90" font-size="7.1" font-family='"Liberation Sans", sans-serif' text-anchor="end" fill="#000" stroke="#000" stroke-width="0.08">15</text>
<line x1="34.70" y1="397.72" x2="36.70" y2="397.72" stroke="#000" stroke-width="0.8"/>
<text x="34.80" y="400.28" font-size="7.1" font-family='"Liberation Sans", sans-serif' text-anchor="end" fill="#000" stroke="#000" stroke-width="0.08">20</text>
<line x1="34.70" y1="388.10" x2="36.70" y2="388.10" stroke="#000" stroke-width="0.8"/>
<text x="34.80" y="390.66" font-size="7.1" font-family='"Liberation Sans", sans-serif' text-anchor="end" fill="#000" stroke="#000" stroke-width="0.08">25</text>
<line x1="34.70" y1="378.48" x2="36.70" y2="378.48" stroke="#000" stroke-width="0.8"/>
<text x="34.80" y="381.04" font-size="7.1" font-family='"Liberation Sans", sans-serif' text-anchor="end" fill="#000" stroke="#000" stroke-width="0.08">30</text>
<line x1="34.70" y1="368.86" x2="36.70" y2="368.86" stroke="#000" stroke-width="0.8"/>
<text x="34.80" y="371.42" font-size="7.1" font-family='"Liberation Sans", sans-serif' text-anchor="end" fill="#000" stroke="#000" stroke-width="0.08">35</text>
<line x1="34.70" y1="359.24" x2="36.70" y2="359.24" stroke="#000" stroke-width="0.8"/>
<text x="34.80" y="361.80" font-size="7.1" font-family='"Liberation Sans", sans-serif' text-anchor="end" fill="#000" stroke="#000" stroke-width="0.08">40</text>
<line x1="34.70" y1="349.62" x2="36.70" y2="349.62" stroke="#000" stroke-width="0.8"/>
<text x="34.80" y="352.18" font-size="7.1" font-family='"Liberation Sans", sans-serif' text-anchor="end" fill="#000" stroke="#000" stroke-width="0.08">45</text>
<line x1="34.70" y1="340.00" x2="36.70" y2="340.00" stroke="#000" stroke-width="0.8"/>
<text x="34.80" y="342.56" font-size="7.1" font-family='"Liberation Sans", sans-serif' text-anchor="end" fill="#000" stroke="#000" stroke-width="0.08">50</text>
<line x1="84.50" y1="436.20" x2="84.50" y2="438.70" stroke="#000" stroke-width="0.8"/>
<text x="61.20" y="444.80" font-size="7.6" font-family='"Liberation Serif", serif' text-anchor="middle" fill="#000" stroke="#000" stroke-width="0.08">0.1</text>
<text x="109.20" y="444.80" font-size="7.6" font-family='"Liberation Serif", serif' text-anchor="middle" fill="#000" stroke="#000" stroke-width="0.08">0.5</text>
<text x="71.20" y="341.30" font-size="9.8" font-family='"Liberation Sans", sans-serif' textLength="27.00" lengthAdjust="spacingAndGlyphs" fill="#000" stroke="#000" stroke-width="0.05">TNF-<tspan font-family="DejaVu Sans" font-size="9.8">α</tspan></text>
<rect x="175.20" y="389.30" width="14.60" height="46.90" fill="#000"/>
<rect x="190.25" y="426.85" width="13.10" height="9.35" fill="#fff" stroke="#000" stroke-width="0.9"/>
<line x1="182.50" y1="389.30" x2="182.50" y2="386.70" stroke="#000" stroke-width="1"/>
<line x1="180.75" y1="387.10" x2="184.25" y2="387.10" stroke="#000" stroke-width="1.2"/>
<line x1="196.80" y1="426.40" x2="196.80" y2="426.00" stroke="#000" stroke-width="1"/>
<line x1="195.05" y1="426.40" x2="198.55" y2="426.40" stroke="#000" stroke-width="1.2"/>
<rect x="225.00" y="358.70" width="14.20" height="77.50" fill="#000"/>
<rect x="239.65" y="426.15" width="13.10" height="10.05" fill="#fff" stroke="#000" stroke-width="0.9"/>
<line x1="232.10" y1="358.70" x2="232.10" y2="355.50" stroke="#000" stroke-width="1"/>
<line x1="230.35" y1="355.90" x2="233.85" y2="355.90" stroke="#000" stroke-width="1.2"/>
<line x1="246.20" y1="425.70" x2="246.20" y2="422.00" stroke="#000" stroke-width="1"/>
<line x1="244.45" y1="422.40" x2="247.95" y2="422.40" stroke="#000" stroke-width="1.2"/>
<line x1="164.20" y1="344.20" x2="164.20" y2="436.70" stroke="#000" stroke-width="0.9"/>
<line x1="162.20" y1="436.20" x2="262.00" y2="436.20" stroke="#000" stroke-width="0.9"/>
<line x1="162.20" y1="436.20" x2="164.20" y2="436.20" stroke="#000" stroke-width="0.8"/>
<text x="162.60" y="438.47" font-size="6.3" font-family='"Liberation Sans", sans-serif' text-anchor="end" fill="#000" stroke="#000" stroke-width="0.08">0</text>
<line x1="162.20" y1="425.98" x2="164.20" y2="425.98" stroke="#000" stroke-width="0.8"/>
<text x="162.60" y="428.25" font-size="6.3" font-family='"Liberation Sans", sans-serif' text-anchor="end" fill="#000" stroke="#000" stroke-width="0.08">100</text>
<line x1="162.20" y1="415.76" x2="164.20" y2="415.76" stroke="#000" stroke-width="0.8"/>
<text x="162.60" y="418.03" font-size="6.3" font-family='"Liberation Sans", sans-serif' text-anchor="end" fill="#000" stroke="#000" stroke-width="0.08">200</text>
<line x1="162.20" y1="405.54" x2="164.20" y2="405.54" stroke="#000" stroke-width="0.8"/>
<text x="162.60" y="407.81" font-size="6.3" font-family='"Liberation Sans", sans-serif' text-anchor="end" fill="#000" stroke="#000" stroke-width="0.08">300</text>
<line x1="162.20" y1="395.32" x2="164.20" y2="395.32" stroke="#000" stroke-width="0.8"/>
<text x="162.60" y="397.59" font-size="6.3" font-family='"Liberation Sans", sans-serif' text-anchor="end" fill="#000" stroke="#000" stroke-width="0.08">400</text>
<line x1="162.20" y1="385.10" x2="164.20" y2="385.10" stroke="#000" stroke-width="0.8"/>
<text x="162.60" y="387.37" font-size="6.3" font-family='"Liberation Sans", sans-serif' text-anchor="end" fill="#000" stroke="#000" stroke-width="0.08">500</text>
<line x1="162.20" y1="374.88" x2="164.20" y2="374.88" stroke="#000" stroke-width="0.8"/>
<text x="162.60" y="377.15" font-size="6.3" font-family='"Liberation Sans", sans-serif' text-anchor="end" fill="#000" stroke="#000" stroke-width="0.08">600</text>
<line x1="162.20" y1="364.66" x2="164.20" y2="364.66" stroke="#000" stroke-width="0.8"/>
<text x="162.60" y="366.93" font-size="6.3" font-family='"Liberation Sans", sans-serif' text-anchor="end" fill="#000" stroke="#000" stroke-width="0.08">700</text>
<line x1="162.20" y1="354.44" x2="164.20" y2="354.44" stroke="#000" stroke-width="0.8"/>
<text x="162.60" y="356.71" font-size="6.3" font-family='"Liberation Sans", sans-serif' text-anchor="end" fill="#000" stroke="#000" stroke-width="0.08">800</text>
<line x1="162.20" y1="344.22" x2="164.20" y2="344.22" stroke="#000" stroke-width="0.8"/>
<text x="162.60" y="346.49" font-size="6.3" font-family='"Liberation Sans", sans-serif' text-anchor="end" fill="#000" stroke="#000" stroke-width="0.08">900</text>
<line x1="213.70" y1="436.20" x2="213.70" y2="438.70" stroke="#000" stroke-width="0.8"/>
<text x="189.60" y="447.80" font-size="7.6" font-family='"Liberation Serif", serif' text-anchor="middle" fill="#000" stroke="#000" stroke-width="0.08">0.1</text>
<text x="239.20" y="447.80" font-size="7.6" font-family='"Liberation Serif", serif' text-anchor="middle" fill="#000" stroke="#000" stroke-width="0.08">0.5</text>
<text x="196.50" y="335.00" font-size="9.4" font-family='"Liberation Sans", sans-serif' textLength="13.80" lengthAdjust="spacingAndGlyphs" fill="#000" stroke="#000" stroke-width="0.05">IL6</text>
<text x="257.30" y="462.00" font-size="7.8" font-family='"Liberation Sans", sans-serif' textLength="15.00" lengthAdjust="spacingAndGlyphs" fill="#000" stroke="#000" stroke-width="0.08">MOI</text>
<rect x="297.50" y="404.20" width="14.20" height="30.80" fill="#000"/>
<rect x="312.15" y="430.45" width="12.90" height="4.55" fill="#fff" stroke="#000" stroke-width="0.9"/>
<line x1="304.60" y1="404.20" x2="304.60" y2="402.00" stroke="#000" stroke-width="1"/>
<line x1="302.85" y1="402.40" x2="306.35" y2="402.40" stroke="#000" stroke-width="1.2"/>
<line x1="318.60" y1="430.00" x2="318.60" y2="429.30" stroke="#000" stroke-width="1"/>
<line x1="316.85" y1="429.70" x2="320.35" y2="429.70" stroke="#000" stroke-width="1.2"/>
<rect x="346.70" y="368.00" width="14.00" height="67.00" fill="#000"/>
<rect x="361.15" y="425.95" width="12.90" height="9.05" fill="#fff" stroke="#000" stroke-width="0.9"/>
<line x1="353.70" y1="368.00" x2="353.70" y2="364.00" stroke="#000" stroke-width="1"/>
<line x1="351.95" y1="364.40" x2="355.45" y2="364.40" stroke="#000" stroke-width="1.2"/>
<line x1="367.60" y1="425.50" x2="367.60" y2="425.00" stroke="#000" stroke-width="1"/>
<line x1="365.85" y1="425.40" x2="369.35" y2="425.40" stroke="#000" stroke-width="1.2"/>
<line x1="286.20" y1="346.20" x2="286.20" y2="435.50" stroke="#000" stroke-width="0.9"/>
<line x1="284.20" y1="435.00" x2="385.00" y2="435.00" stroke="#000" stroke-width="0.9"/>
<line x1="284.20" y1="435.00" x2="286.20" y2="435.00" stroke="#000" stroke-width="0.8"/>
<text x="284.30" y="437.09" font-size="5.8" font-family='"Liberation Sans", sans-serif' text-anchor="end" fill="#000" stroke="#000" stroke-width="0.08">0</text>
<line x1="284.20" y1="420.20" x2="286.20" y2="420.20" stroke="#000" stroke-width="0.8"/>
<text x="284.30" y="422.29" font-size="5.8" font-family='"Liberation Sans", sans-serif' text-anchor="end" fill="#000" stroke="#000" stroke-width="0.08">200</text>
<line x1="284.20" y1="405.40" x2="286.20" y2="405.40" stroke="#000" stroke-width="0.8"/>
<text x="284.30" y="407.49" font-size="5.8" font-family='"Liberation Sans", sans-serif' text-anchor="end" fill="#000" stroke="#000" stroke-width="0.08">400</text>
<line x1="284.20" y1="390.60" x2="286.20" y2="390.60" stroke="#000" stroke-width="0.8"/>
<text x="284.30" y="392.69" font-size="5.8" font-family='"Liberation Sans", sans-serif' text-anchor="end" fill="#000" stroke="#000" stroke-width="0.08">600</text>
<line x1="284.20" y1="375.80" x2="286.20" y2="375.80" stroke="#000" stroke-width="0.8"/>
<text x="284.30" y="377.89" font-size="5.8" font-family='"Liberation Sans", sans-serif' text-anchor="end" fill="#000" stroke="#000" stroke-width="0.08">800</text>
<line x1="284.20" y1="361.00" x2="286.20" y2="361.00" stroke="#000" stroke-width="0.8"/>
<text x="284.30" y="363.09" font-size="5.8" font-family='"Liberation Sans", sans-serif' text-anchor="end" fill="#000" stroke="#000" stroke-width="0.08">1000</text>
<line x1="284.20" y1="346.20" x2="286.20" y2="346.20" stroke="#000" stroke-width="0.8"/>
<text x="284.30" y="348.29" font-size="5.8" font-family='"Liberation Sans", sans-serif' text-anchor="end" fill="#000" stroke="#000" stroke-width="0.08">1200</text>
<line x1="335.50" y1="435.00" x2="335.50" y2="437.50" stroke="#000" stroke-width="0.8"/>
<text x="313.20" y="447.00" font-size="6.2" font-family='"Liberation Sans", sans-serif' text-anchor="middle" fill="#000" stroke="#000" stroke-width="0.08">0.1</text>
<text x="362.50" y="447.00" font-size="6.2" font-family='"Liberation Sans", sans-serif' text-anchor="middle" fill="#000" stroke="#000" stroke-width="0.08">0.5</text>
<text x="311.80" y="341.40" font-size="9.4" font-family='"Liberation Sans", sans-serif' textLength="18.60" lengthAdjust="spacingAndGlyphs" fill="#000" stroke="#000" stroke-width="0.05">IP10</text>
<rect x="421.20" y="415.50" width="14.50" height="20.70" fill="#000"/>
<rect x="436.15" y="425.95" width="13.90" height="10.25" fill="#fff" stroke="#000" stroke-width="0.9"/>
<line x1="428.45" y1="415.50" x2="428.45" y2="409.20" stroke="#000" stroke-width="1"/>
<line x1="426.70" y1="409.60" x2="430.20" y2="409.60" stroke="#000" stroke-width="1.2"/>
<line x1="443.10" y1="425.50" x2="443.10" y2="424.20" stroke="#000" stroke-width="1"/>
<line x1="441.35" y1="424.60" x2="444.85" y2="424.60" stroke="#000" stroke-width="1.2"/>
<rect x="472.00" y="353.70" width="14.70" height="82.50" fill="#000"/>
<rect x="487.15" y="420.95" width="13.60" height="15.25" fill="#fff" stroke="#000" stroke-width="0.9"/>
<line x1="479.35" y1="353.70" x2="479.35" y2="348.20" stroke="#000" stroke-width="1"/>
<line x1="477.60" y1="348.60" x2="481.10" y2="348.60" stroke="#000" stroke-width="1.2"/>
<line x1="493.95" y1="420.50" x2="493.95" y2="415.50" stroke="#000" stroke-width="1"/>
<line x1="492.20" y1="415.90" x2="495.70" y2="415.90" stroke="#000" stroke-width="1.2"/>
<line x1="410.00" y1="332.50" x2="410.00" y2="436.70" stroke="#000" stroke-width="0.9"/>
<line x1="408.00" y1="436.20" x2="512.50" y2="436.20" stroke="#000" stroke-width="0.9"/>
<line x1="408.00" y1="436.20" x2="410.00" y2="436.20" stroke="#000" stroke-width="0.8"/>
<text x="408.50" y="438.79" font-size="7.2" font-family='"Liberation Sans", sans-serif' text-anchor="end" fill="#000" stroke="#000" stroke-width="0.08">0</text>
<line x1="408.00" y1="423.23" x2="410.00" y2="423.23" stroke="#000" stroke-width="0.8"/>
<text x="408.50" y="425.82" font-size="7.2" font-family='"Liberation Sans", sans-serif' text-anchor="end" fill="#000" stroke="#000" stroke-width="0.08">5</text>
<line x1="408.00" y1="410.26" x2="410.00" y2="410.26" stroke="#000" stroke-width="0.8"/>
<text x="408.50" y="412.85" font-size="7.2" font-family='"Liberation Sans", sans-serif' text-anchor="end" fill="#000" stroke="#000" stroke-width="0.08">10</text>
<line x1="408.00" y1="397.29" x2="410.00" y2="397.29" stroke="#000" stroke-width="0.8"/>
<text x="408.50" y="399.88" font-size="7.2" font-family='"Liberation Sans", sans-serif' text-anchor="end" fill="#000" stroke="#000" stroke-width="0.08">15</text>
<line x1="408.00" y1="384.32" x2="410.00" y2="384.32" stroke="#000" stroke-width="0.8"/>
<text x="408.50" y="386.91" font-size="7.2" font-family='"Liberation Sans", sans-serif' text-anchor="end" fill="#000" stroke="#000" stroke-width="0.08">20</text>
<line x1="408.00" y1="371.35" x2="410.00" y2="371.35" stroke="#000" stroke-width="0.8"/>
<text x="408.50" y="373.94" font-size="7.2" font-family='"Liberation Sans", sans-serif' text-anchor="end" fill="#000" stroke="#000" stroke-width="0.08">25</text>
<line x1="408.00" y1="358.38" x2="410.00" y2="358.38" stroke="#000" stroke-width="0.8"/>
<text x="408.50" y="360.97" font-size="7.2" font-family='"Liberation Sans", sans-serif' text-anchor="end" fill="#000" stroke="#000" stroke-width="0.08">30</text>
<line x1="408.00" y1="345.41" x2="410.00" y2="345.41" stroke="#000" stroke-width="0.8"/>
<text x="408.50" y="348.00" font-size="7.2" font-family='"Liberation Sans", sans-serif' text-anchor="end" fill="#000" stroke="#000" stroke-width="0.08">35</text>
<line x1="408.00" y1="332.44" x2="410.00" y2="332.44" stroke="#000" stroke-width="0.8"/>
<text x="408.50" y="335.03" font-size="7.2" font-family='"Liberation Sans", sans-serif' text-anchor="end" fill="#000" stroke="#000" stroke-width="0.08">40</text>
<line x1="461.50" y1="436.20" x2="461.50" y2="438.70" stroke="#000" stroke-width="0.8"/>
<text x="436.00" y="446.00" font-size="7.6" font-family='"Liberation Serif", serif' text-anchor="middle" fill="#000" stroke="#000" stroke-width="0.08">0.1</text>
<text x="487.50" y="446.00" font-size="7.6" font-family='"Liberation Serif", serif' text-anchor="middle" fill="#000" stroke="#000" stroke-width="0.08">0.5</text>
<text x="436.80" y="344.50" font-size="9.4" font-family='"Liberation Sans", sans-serif' textLength="23.40" lengthAdjust="spacingAndGlyphs" fill="#000" stroke="#000" stroke-width="0.05">IFN-β</text>
<text x="29.00" y="484.50" font-size="16.5" font-family='"Liberation Sans", sans-serif' textLength="11.90" lengthAdjust="spacingAndGlyphs" font-weight="bold" fill="#000" stroke="#000" stroke-width="0.4">D</text>
<text x="33.20" y="574.60" font-size="6.2" font-family='"DejaVu Sans", "Liberation Sans", sans-serif' text-anchor="middle" textLength="66.30" lengthAdjust="spacingAndGlyphs" transform="rotate(-90 33.20 574.60)" dominant-baseline="central">Fold Induction (AU)</text>
<line x1="65.00" y1="492.30" x2="65.00" y2="647.50" stroke="#000" stroke-width="0.8"/>
<line x1="63.00" y1="647.50" x2="278.60" y2="647.50" stroke="#000" stroke-width="0.8"/>
<line x1="62.50" y1="647.50" x2="65.00" y2="647.50" stroke="#000" stroke-width="0.7"/>
<text x="51.50" y="649.90" font-size="6.7" font-family='"DejaVu Sans", "Liberation Sans", sans-serif' text-anchor="end" fill="#000" stroke="#000" stroke-width="0.08">1</text>
<line x1="62.50" y1="608.70" x2="65.00" y2="608.70" stroke="#000" stroke-width="0.7"/>
<text x="51.50" y="611.10" font-size="6.7" font-family='"DejaVu Sans", "Liberation Sans", sans-serif' text-anchor="end" fill="#000" stroke="#000" stroke-width="0.08">10</text>
<line x1="62.50" y1="569.90" x2="65.00" y2="569.90" stroke="#000" stroke-width="0.7"/>
<text x="51.50" y="572.30" font-size="6.7" font-family='"DejaVu Sans", "Liberation Sans", sans-serif' text-anchor="end" fill="#000" stroke="#000" stroke-width="0.08">100</text>
<line x1="62.50" y1="531.10" x2="65.00" y2="531.10" stroke="#000" stroke-width="0.7"/>
<text x="51.50" y="533.50" font-size="6.7" font-family='"DejaVu Sans", "Liberation Sans", sans-serif' text-anchor="end" fill="#000" stroke="#000" stroke-width="0.08">1000</text>
<line x1="62.50" y1="492.30" x2="65.00" y2="492.30" stroke="#000" stroke-width="0.7"/>
<text x="51.50" y="494.70" font-size="6.7" font-family='"DejaVu Sans", "Liberation Sans", sans-serif' text-anchor="end" fill="#000" stroke="#000" stroke-width="0.08">10000</text>
<line x1="65.00" y1="647.50" x2="65.00" y2="650.00" stroke="#000" stroke-width="0.7"/>
<line x1="118.40" y1="647.50" x2="118.40" y2="650.00" stroke="#000" stroke-width="0.7"/>
<line x1="171.80" y1="647.50" x2="171.80" y2="650.00" stroke="#000" stroke-width="0.7"/>
<line x1="225.20" y1="647.50" x2="225.20" y2="650.00" stroke="#000" stroke-width="0.7"/>
<line x1="278.60" y1="647.50" x2="278.60" y2="650.00" stroke="#000" stroke-width="0.7"/>
<rect x="74.50" y="592.00" width="11.65" height="55.50" fill="#000"/>
<line x1="80.33" y1="592.00" x2="80.33" y2="588.50" stroke="#000" stroke-width="0.8"/>
<line x1="77.08" y1="588.90" x2="83.58" y2="588.90" stroke="#000" stroke-width="1.2"/>
<rect x="86.60" y="610.95" width="10.75" height="36.50" fill="#fff" stroke="#000" stroke-width="0.9"/>
<line x1="91.97" y1="610.50" x2="91.97" y2="608.00" stroke="#000" stroke-width="0.8"/>
<line x1="88.72" y1="608.40" x2="95.22" y2="608.40" stroke="#000" stroke-width="1.2"/>
<rect x="97.80" y="616.30" width="11.05" height="31.30" fill="#cdcdcd" stroke="#222" stroke-width="0.6"/>
<line x1="103.62" y1="616.00" x2="103.62" y2="614.50" stroke="#000" stroke-width="0.8"/>
<line x1="100.38" y1="614.90" x2="106.88" y2="614.90" stroke="#000" stroke-width="1.2"/>
<rect x="127.50" y="535.00" width="11.65" height="112.50" fill="#000"/>
<line x1="133.32" y1="535.00" x2="133.32" y2="533.50" stroke="#000" stroke-width="0.8"/>
<line x1="130.07" y1="533.90" x2="136.57" y2="533.90" stroke="#000" stroke-width="1.2"/>
<rect x="139.60" y="572.95" width="10.75" height="74.50" fill="#fff" stroke="#000" stroke-width="0.9"/>
<line x1="144.97" y1="572.50" x2="144.97" y2="571.50" stroke="#000" stroke-width="0.8"/>
<line x1="141.72" y1="571.90" x2="148.22" y2="571.90" stroke="#000" stroke-width="1.2"/>
<rect x="150.80" y="595.30" width="11.05" height="52.30" fill="#cdcdcd" stroke="#222" stroke-width="0.6"/>
<line x1="156.62" y1="595.00" x2="156.62" y2="591.50" stroke="#000" stroke-width="0.8"/>
<line x1="153.38" y1="591.90" x2="159.88" y2="591.90" stroke="#000" stroke-width="1.2"/>
<rect x="181.00" y="519.50" width="11.65" height="128.00" fill="#000"/>
<line x1="186.82" y1="519.50" x2="186.82" y2="518.50" stroke="#000" stroke-width="0.8"/>
<line x1="183.57" y1="518.90" x2="190.07" y2="518.90" stroke="#000" stroke-width="1.2"/>
<rect x="193.10" y="572.95" width="10.75" height="74.50" fill="#fff" stroke="#000" stroke-width="0.9"/>
<line x1="198.47" y1="572.50" x2="198.47" y2="571.50" stroke="#000" stroke-width="0.8"/>
<line x1="195.22" y1="571.90" x2="201.72" y2="571.90" stroke="#000" stroke-width="1.2"/>
<rect x="204.30" y="595.30" width="11.05" height="52.30" fill="#cdcdcd" stroke="#222" stroke-width="0.6"/>
<line x1="210.12" y1="595.00" x2="210.12" y2="592.50" stroke="#000" stroke-width="0.8"/>
<line x1="206.88" y1="592.90" x2="213.38" y2="592.90" stroke="#000" stroke-width="1.2"/>
<rect x="234.00" y="607.00" width="11.65" height="40.50" fill="#000"/>
<line x1="239.82" y1="607.00" x2="239.82" y2="603.50" stroke="#000" stroke-width="0.8"/>
<line x1="236.57" y1="603.90" x2="243.07" y2="603.90" stroke="#000" stroke-width="1.2"/>
<rect x="246.10" y="619.95" width="10.75" height="27.50" fill="#fff" stroke="#000" stroke-width="0.9"/>
<line x1="251.47" y1="619.50" x2="251.47" y2="617.00" stroke="#000" stroke-width="0.8"/>
<line x1="248.22" y1="617.40" x2="254.72" y2="617.40" stroke="#000" stroke-width="1.2"/>
<rect x="257.30" y="624.80" width="11.05" height="22.80" fill="#cdcdcd" stroke="#222" stroke-width="0.6"/>
<line x1="263.12" y1="624.50" x2="263.12" y2="623.00" stroke="#000" stroke-width="0.8"/>
<line x1="259.88" y1="623.40" x2="266.38" y2="623.40" stroke="#000" stroke-width="1.2"/>
<text x="91.50" y="661.60" font-size="7.2" font-family='"DejaVu Sans", "Liberation Sans", sans-serif' text-anchor="middle" fill="#000" stroke="#000" stroke-width="0.08">TNF-<tspan font-family="DejaVu Sans" font-size="7.2">α</tspan></text>
<text x="145.00" y="661.60" font-size="7.2" font-family='"DejaVu Sans", "Liberation Sans", sans-serif' text-anchor="middle" fill="#000" stroke="#000" stroke-width="0.08">IL6</text>
<text x="197.50" y="661.60" font-size="7.2" font-family='"DejaVu Sans", "Liberation Sans", sans-serif' text-anchor="middle" fill="#000" stroke="#000" stroke-width="0.08">IP10</text>
<text x="248.50" y="661.60" font-size="7.2" font-family='"DejaVu Sans", "Liberation Sans", sans-serif' text-anchor="middle" fill="#000" stroke="#000" stroke-width="0.08">IFN-β</text>
<rect x="231.80" y="496.40" width="6.30" height="5.50" fill="#000"/>
<text x="240.20" y="501.80" font-size="6.2" font-family='"DejaVu Sans", "Liberation Sans", sans-serif' textLength="27.20" lengthAdjust="spacingAndGlyphs" fill="#000">HF-HSV</text>
<rect x="231.85" y="513.95" width="6.20" height="5.60" fill="#fff" stroke="#000" stroke-width="0.9"/>
<text x="240.20" y="519.40" font-size="6.2" font-family='"DejaVu Sans", "Liberation Sans", sans-serif' textLength="29.00" lengthAdjust="spacingAndGlyphs" fill="#000">H+-HSV</text>
<rect x="232" y="531.4" width="6.1" height="5.4" fill="#cdcdcd"/>
<text x="240.80" y="536.70" font-size="6.2" font-family='"DejaVu Sans", "Liberation Sans", sans-serif' textLength="39.80" lengthAdjust="spacingAndGlyphs" fill="#000">HSV Helper</text>
</g>
</svg>
</body></html>
